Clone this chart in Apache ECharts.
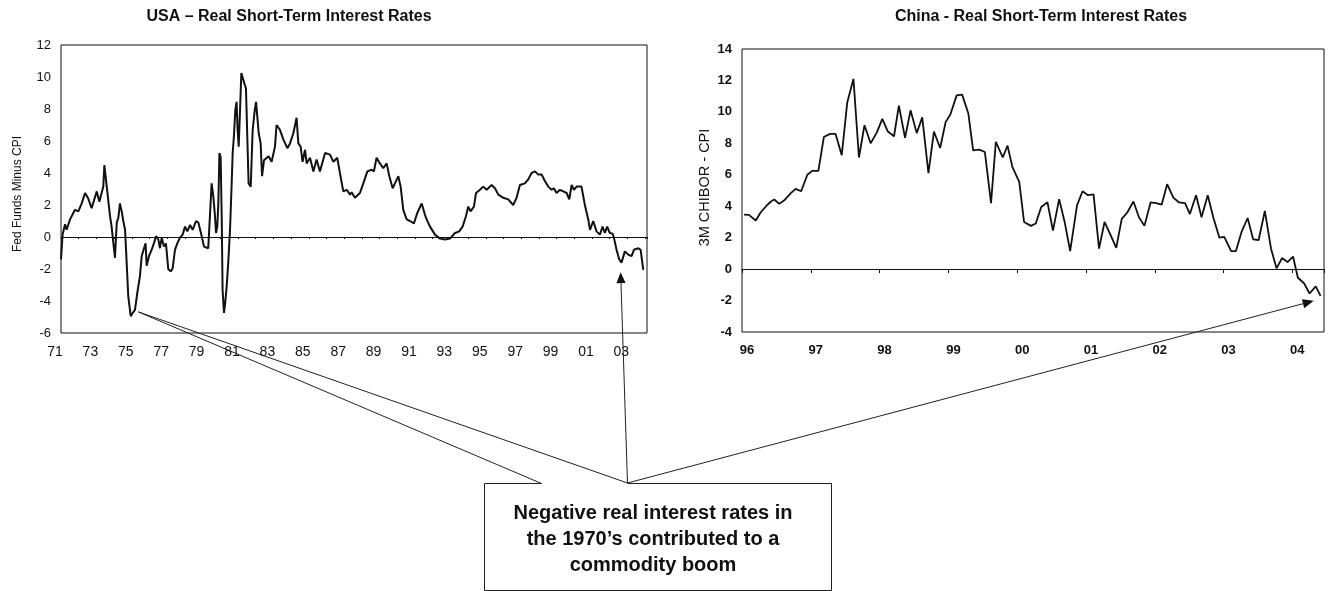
<!DOCTYPE html>
<html>
<head>
<meta charset="utf-8">
<title>Real Short-Term Interest Rates</title>
<script src="https://cdn.jsdelivr.net/npm/echarts@6/dist/echarts.min.js"></script>
<style>
  html, body { margin: 0; padding: 0; background: #fff; }
  #chart { width: 1330px; height: 591px; }
</style>
</head>
<body>
<div id="chart"></div>
<script>
// USA: Fed funds minus CPI (decimal year, %)
const usaStartYear = 1971;
const usaYears = [
  1971.00, 1971.09, 1971.23, 1971.32, 1971.51, 1971.79, 1971.98, 1972.17, 1972.36, 1972.54,
  1972.73, 1973.02, 1973.17, 1973.39, 1973.45, 1973.54, 1973.62, 1973.77, 1973.86, 1973.96,
  1974.05, 1974.15, 1974.24, 1974.33, 1974.43, 1974.52, 1974.62, 1974.71, 1974.80, 1974.94,
  1975.05, 1975.18, 1975.31, 1975.46, 1975.56, 1975.69, 1975.78, 1975.84, 1975.97, 1976.12,
  1976.25, 1976.37, 1976.50, 1976.59, 1976.69, 1976.82, 1976.93, 1977.06, 1977.20, 1977.31,
  1977.44, 1977.57, 1977.72, 1977.87, 1978.01, 1978.14, 1978.29, 1978.44, 1978.63, 1978.76,
  1978.95, 1979.08, 1979.32, 1979.42, 1979.51, 1979.61, 1979.70, 1979.76, 1979.83, 1979.89,
  1979.95, 1980.02, 1980.08, 1980.13, 1980.21, 1980.28, 1980.36, 1980.45, 1980.55, 1980.64,
  1980.70, 1980.77, 1980.85, 1980.92, 1980.98, 1981.04, 1981.11, 1981.19, 1981.26, 1981.36,
  1981.45, 1981.53, 1981.60, 1981.72, 1981.83, 1981.94, 1982.02, 1982.09, 1982.17, 1982.28,
  1982.36, 1982.47, 1982.54, 1982.73, 1982.90, 1983.09, 1983.18, 1983.37, 1983.56, 1983.79,
  1983.94, 1984.13, 1984.31, 1984.41, 1984.54, 1984.65, 1984.79, 1984.88, 1985.07, 1985.26,
  1985.44, 1985.63, 1985.92, 1986.20, 1986.39, 1986.61, 1986.76, 1986.95, 1987.14, 1987.33,
  1987.42, 1987.61, 1987.89, 1988.08, 1988.31, 1988.55, 1988.68, 1988.83, 1989.02, 1989.21,
  1989.40, 1989.55, 1989.74, 1989.87, 1990.06, 1990.19, 1990.34, 1990.53, 1990.72, 1990.94,
  1991.13, 1991.38, 1991.56, 1991.66, 1991.85, 1992.13, 1992.41, 1992.69, 1992.98, 1993.26,
  1993.50, 1993.69, 1993.88, 1994.01, 1994.14, 1994.33, 1994.45, 1994.67, 1994.86, 1995.05,
  1995.33, 1995.52, 1995.71, 1995.99, 1996.27, 1996.55, 1996.74, 1996.93, 1997.21, 1997.40,
  1997.59, 1997.78, 1997.97, 1998.16, 1998.34, 1998.53, 1998.72, 1998.85, 1999.00, 1999.19,
  1999.38, 1999.57, 1999.72, 1999.85, 1999.98, 2000.13, 2000.41, 2000.60, 2000.70, 2000.79,
  2000.89, 2001.07, 2001.26, 2001.45, 2001.60, 2001.73, 2001.86, 2002.01, 2002.17, 2002.24,
  2002.39, 2002.54, 2002.67, 2002.86, 2003.05, 2003.24, 2003.37, 2003.62, 2003.75, 2003.90
];
const usaRates = [
  -1.4, 0.15, 0.8, 0.45, 1.1, 1.7, 1.6, 2.1, 2.75, 2.4,
  1.8, 2.85, 2.2, 3.15, 4.5, 3.6, 3.5, 1.3, 0.65, -0.4,
  -1.3, 0.9, 1.2, 2.1, 1.6, 1.0, 0.45, -1.6, -3.7, -4.95,
  -4.75, -4.55, -3.5, -2.45, -1.2, -0.7, -0.4, -1.8, -1.2, -0.8,
  -0.4, 0.05, -0.15, -0.7, -0.05, -0.6, -0.4, -2.0, -2.15, -1.95,
  -0.8, -0.4, -0.05, 0.15, 0.65, 0.35, 0.75, 0.45, 1.0, 0.9,
  0.05, -0.6, -0.7, -0.8, 3.35, 2.5, 1.3, 0.25, 0.65, 2.1,
  5.25, 5.0, 1.3, -3.3, -4.75, -4.1, -3.1, -1.6, 0.45, 3.25,
  5.25, 6.3, 7.95, 8.45, 6.7, 5.65, 7.75, 10.25, 10.35, 9.6,
  9.3, 9.3, 3.35, 3.15, 6.7, 7.85, 8.45, 7.55, 6.5, 5.85,
  3.8, 4.8, 4.7, 5.05, 4.7, 5.65, 7.0, 6.7, 6.1, 5.55,
  5.85, 6.5, 7.45, 5.85, 5.65, 4.7, 5.45, 4.6, 4.95, 4.1,
  4.85, 4.1, 5.25, 5.15, 4.7, 4.95, 4.0, 2.85, 2.95, 2.65,
  2.8, 2.45, 2.75, 3.35, 4.1, 4.2, 4.1, 4.95, 4.6, 4.3,
  4.6, 3.8, 3.05, 3.35, 3.8, 3.15, 1.7, 1.1, 1.0, 0.85,
  1.5, 2.1, 1.4, 1.1, 0.65, 0.15, -0.1, -0.15, -0.1, 0.25,
  0.35, 0.65, 1.3, 1.9, 1.6, 1.9, 2.75, 2.95, 3.15, 2.95,
  3.25, 3.05, 2.65, 2.45, 2.35, 2.0, 2.45, 3.25, 3.35, 3.6,
  4.0, 4.1, 3.9, 3.9, 3.5, 3.15, 2.95, 3.05, 2.75, 2.95,
  2.85, 2.75, 2.35, 3.25, 2.95, 3.15, 3.15, 2.0, 2.1, 1.1,
  0.45, 1.0, 0.35, 0.15, 0.65, 0.25, 0.65, 0.25, 0.2, -0.05,
  -0.8, -1.4, -1.6, -0.9, -1.1, -1.2, -0.8, -0.7, -0.8, -2.05
];

// China: 3M CHIBOR minus CPI (decimal year, %)
const chinaStartYear = 1996;
const chinaYears = [
  1996.03, 1996.10, 1996.20, 1996.27, 1996.35, 1996.42, 1996.47, 1996.54, 1996.62, 1996.71,
  1996.78, 1996.86, 1996.95, 1997.02, 1997.11, 1997.19, 1997.28, 1997.36, 1997.45, 1997.53,
  1997.62, 1997.70, 1997.78, 1997.87, 1997.96, 1998.04, 1998.12, 1998.21, 1998.28, 1998.37,
  1998.45, 1998.54, 1998.62, 1998.71, 1998.79, 1998.88, 1998.96, 1999.03, 1999.12, 1999.20,
  1999.29, 1999.36, 1999.45, 1999.53, 1999.62, 1999.69, 1999.79, 1999.86, 1999.93, 2000.03,
  2000.10, 2000.20, 2000.27, 2000.35, 2000.44, 2000.52, 2000.61, 2000.69, 2000.77, 2000.87,
  2000.95, 2001.03, 2001.11, 2001.19, 2001.27, 2001.36, 2001.44, 2001.52, 2001.60, 2001.69,
  2001.77, 2001.85, 2001.94, 2002.02, 2002.10, 2002.18, 2002.27, 2002.35, 2002.44, 2002.51,
  2002.60, 2002.68, 2002.77, 2002.85, 2002.94, 2003.01, 2003.11, 2003.18, 2003.26, 2003.35,
  2003.43, 2003.51, 2003.60, 2003.69, 2003.77, 2003.85, 2003.93, 2004.01, 2004.08, 2004.17,
  2004.25, 2004.34, 2004.41
];
const chinaRates = [
  3.47, 3.45, 3.09, 3.6, 4.0, 4.3, 4.43, 4.15, 4.4, 4.83,
  5.1, 4.95, 6.0, 6.25, 6.25, 8.4, 8.6, 8.6, 7.25, 10.6,
  12.1, 7.1, 9.15, 8.0, 8.7, 9.55, 8.75, 8.45, 10.4, 8.35,
  10.1, 8.65, 9.65, 6.1, 8.75, 7.7, 9.35, 9.85, 11.05, 11.1,
  9.9, 7.55, 7.6, 7.45, 4.2, 8.1, 7.1, 7.85, 6.5, 5.55,
  3.0, 2.75, 2.9, 3.95, 4.25, 2.45, 4.45, 3.0, 1.15, 4.05,
  4.95, 4.7, 4.75, 1.3, 3.0, 2.15, 1.35, 3.2, 3.6, 4.3,
  3.3, 2.75, 4.25, 4.2, 4.1, 5.4, 4.55, 4.25, 4.2, 3.5,
  4.7, 3.3, 4.7, 3.3, 2.0, 2.05, 1.15, 1.15, 2.35, 3.25,
  1.9, 1.85, 3.7, 1.3, 0.05, 0.7, 0.45, 0.8, -0.55, -0.9,
  -1.55, -1.1, -1.7
];

// annotation anchors [year, value]
const usaCalloutPoint = [1975.37, -4.68];
const usaArrowTip = [2002.62, -2.2];
const chinaArrowTip = [2004.31, -2.02];
const noteText = 'Negative real interest rates in\nthe 1970’s contributed to a\ncommodity boom';

const FONT = '"Liberation Sans", Arial, Helvetica, sans-serif';
const INK = '#111';

const chart = echarts.init(document.getElementById('chart'));

// two-digit year label, only on whole steps
const yearLabel = (base, step) => v => {
  const r = Math.round(v);
  if (Math.abs(v - r) > 1e-6 || r % step !== 0) return '';
  return String((base + r) % 100).padStart(2, '0');
};

const usaData = usaYears.map((y, i) => [y - usaStartYear, usaRates[i]]);
const chinaData = chinaYears.map((y, i) => [y - chinaStartYear, chinaRates[i]]);

const hidden = { show: false };

chart.setOption({
  animation: false,
  backgroundColor: '#fff',
  title: [
    {
      text: 'USA – Real Short-Term Interest Rates', left: 284, top: 4, textAlign: 'center',
      textStyle: { fontFamily: FONT, fontSize: 16, fontWeight: 'bold', color: INK }
    },
    {
      text: 'China - Real Short-Term Interest Rates', left: 1036, top: 4, textAlign: 'center',
      textStyle: { fontFamily: FONT, fontSize: 16, fontWeight: 'bold', color: INK }
    }
  ],
  grid: [
    { left: 61, top: 45, right: 683, bottom: 258, show: true, borderColor: INK, borderWidth: 1 },
    { left: 742, top: 49, right: 6, bottom: 259, show: true, borderColor: INK, borderWidth: 1 }
  ],
  xAxis: [
    {
      gridIndex: 0, type: 'value', min: 0, max: 33.11, interval: 2, position: 'bottom',
      axisLine: { show: false, onZero: false }, axisTick: hidden, splitLine: hidden,
      axisLabel: {
        formatter: yearLabel(usaStartYear, 2), fontFamily: FONT, fontSize: 14, color: INK,
        margin: 12, padding: [0, 12, 0, 0], showMaxLabel: false
      }
    },
    {
      gridIndex: 0, type: 'value', min: 0, max: 33.11, interval: 1, position: 'bottom',
      axisLine: { onZero: true, lineStyle: { color: INK, width: 1 } },
      axisTick: { length: 2, lineStyle: { color: INK } },
      axisLabel: hidden, splitLine: hidden
    },
    {
      gridIndex: 1, type: 'value', min: 0, max: 8.46, interval: 1, position: 'bottom',
      axisLine: { show: false, onZero: false }, axisTick: hidden, splitLine: hidden,
      axisLabel: {
        formatter: yearLabel(chinaStartYear, 1), fontFamily: FONT, fontSize: 13, fontWeight: 'bold',
        color: INK, margin: 12, padding: [0, 0, 0, 10], showMaxLabel: false
      }
    },
    {
      gridIndex: 1, type: 'value', min: 0, max: 8.46, interval: 1, position: 'bottom',
      axisLine: { onZero: true, lineStyle: { color: INK, width: 1 } },
      axisTick: { length: 4, lineStyle: { color: INK } },
      axisLabel: hidden, splitLine: hidden
    }
  ],
  yAxis: [
    {
      gridIndex: 0, type: 'value', min: -6, max: 12, interval: 2,
      axisLine: { show: false, onZero: false }, axisTick: hidden, splitLine: hidden,
      axisLabel: { fontFamily: FONT, fontSize: 13, color: INK, margin: 10 },
      name: 'Fed Funds Minus CPI', nameLocation: 'middle', nameRotate: 90, nameGap: 37,
      nameTextStyle: { fontFamily: FONT, fontSize: 12, color: INK, padding: [0, 10, 0, 0] }
    },
    {
      gridIndex: 1, type: 'value', min: -4, max: 14, interval: 2,
      axisLine: { show: false, onZero: false }, axisTick: hidden, splitLine: hidden,
      axisLabel: { fontFamily: FONT, fontSize: 13, fontWeight: 'bold', color: INK, margin: 10 },
      name: '3M CHIBOR - CPI', nameLocation: 'middle', nameRotate: 90, nameGap: 30,
      nameTextStyle: { fontFamily: FONT, fontSize: 14.5, color: INK, padding: [0, 0, 0, 6] }
    }
  ],
  series: [
    {
      name: 'USA', type: 'line', xAxisIndex: 0, yAxisIndex: 0, data: usaData,
      symbol: 'none', lineStyle: { color: INK, width: 2 }, z: 3
    },
    {
      name: 'China', type: 'line', xAxisIndex: 2, yAxisIndex: 1, data: chinaData,
      symbol: 'none', lineStyle: { color: INK, width: 1.8 }, z: 3
    }
  ]
});

// callout box + pointer lines
const usaPx = p => chart.convertToPixel({ xAxisIndex: 0, yAxisIndex: 0 }, [p[0] - usaStartYear, p[1]]);
const chinaPx = p => chart.convertToPixel({ xAxisIndex: 2, yAxisIndex: 1 }, [p[0] - chinaStartYear, p[1]]);

const lineStyle = { stroke: '#222', lineWidth: 1 };
const seg = (a, b) => ({ type: 'line', shape: { x1: a[0], y1: a[1], x2: b[0], y2: b[1] }, style: lineStyle });

function arrow(from, to, head) {
  const dx = to[0] - from[0], dy = to[1] - from[1];
  const len = Math.hypot(dx, dy);
  const ux = dx / len, uy = dy / len;
  const base = [to[0] - ux * head, to[1] - uy * head];
  const w = head * 0.42;
  return [
    seg(from, base),
    {
      type: 'polygon',
      shape: { points: [to, [base[0] - uy * w, base[1] + ux * w], [base[0] + uy * w, base[1] - ux * w]] },
      style: { fill: INK }
    }
  ];
}

const apex = [627.5, 483];
const notch = [541.5, 483.5];
const calloutStart = usaPx(usaCalloutPoint);

chart.setOption({
  graphic: [
    {
      type: 'polyline',
      shape: { points: [notch, [484.5, 483.5], [484.5, 590.5], [831.5, 590.5], [831.5, 483.5], [apex[0], 483.5]] },
      style: { stroke: '#222', lineWidth: 1, fill: null }
    },
    seg(notch, calloutStart),
    seg(calloutStart, apex),
    ...arrow(apex, usaPx(usaArrowTip), 11),
    ...arrow(apex, chinaPx(chinaArrowTip), 11),
    {
      type: 'text', x: 653, y: 539,
      style: {
        text: noteText, fontFamily: FONT, fontSize: 20, fontWeight: 'bold', lineHeight: 26,
        align: 'center', verticalAlign: 'middle', fill: INK
      }
    }
  ]
});
</script>
</body>
</html>
